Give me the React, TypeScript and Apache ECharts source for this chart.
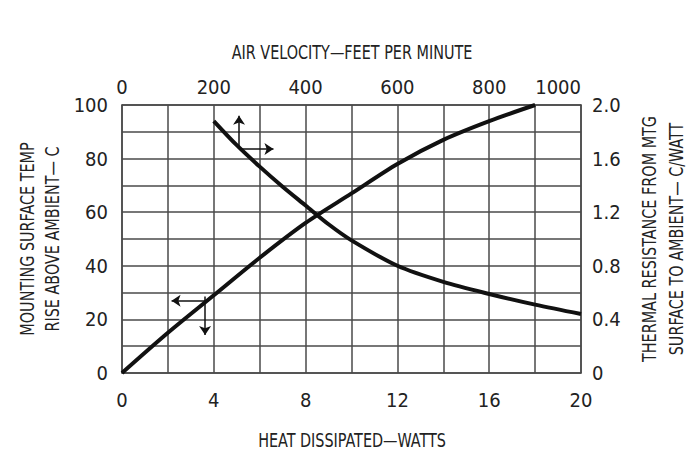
import React, { useEffect, useRef } from "react";
import * as echarts from "echarts";

// Heat dissipated (W) -> mounting surface temperature rise (°C), left axis
const tempRise: [number, number][] = [
  [0, 0], [2, 15], [4, 29], [6, 43], [8, 56], [10, 67], [12, 78], [14, 87], [16, 94], [18, 100],
];
// Heat dissipated (W) -> thermal resistance (°C/W), right axis
const thermalRes: [number, number][] = [
  [4, 1.88], [5, 1.7], [6, 1.54], [7, 1.39], [8, 1.25], [9, 1.11], [10, 0.99],
  [12, 0.8], [14, 0.68], [16, 0.59], [18, 0.51], [20, 0.44],
];
// Arrow annotations in data coordinates (x in W, y on left axis scale)
const arrowUp: [number, number][] = [[5.1, 83.6], [5.1, 96]];
const arrowRight: [number, number][] = [[5.1, 83.6], [6.6, 83.6]];
const arrowLeft: [number, number][] = [[3.76, 27], [2.16, 27]];
const arrowDown: [number, number][] = [[3.62, 28.5], [3.62, 14.2]];

const bottomTitle = "HEAT DISSIPATED—WATTS";
const topTitle = "AIR VELOCITY—FEET PER MINUTE";
const leftTitle = ["MOUNTING SURFACE TEMP", "RISE ABOVE AMBIENT— C"];
const rightTitle = ["THERMAL RESISTANCE FROM MTG", "SURFACE TO AMBIENT— C/WATT"];

const FONT = "'DejaVu Sans Condensed', 'Liberation Sans Narrow', sans-serif";
const TEXT = "#222";
const GRIDC = "#4a4a4a";

export default function App() {
  const ref = useRef<HTMLDivElement>(null);
  useEffect(() => {
    if (!ref.current) return;
    const chart = echarts.init(ref.current, undefined, { renderer: "svg" });
    const axisLine = { show: true, onZero: false, lineStyle: { color: GRIDC, width: 1.5 } };
    const label = { color: TEXT, fontFamily: FONT, fontSize: 20 };
    const split = { show: true, lineStyle: { color: GRIDC, width: 1.5 } };
    const ml = (pts: [number, number][]) => [{ coord: pts[0] }, { coord: pts[1] }];
    const titleStyle = (text: string) => ({
      text, fill: TEXT, font: `20px ${FONT}`, textAlign: "center", textVerticalAlign: "middle",
    });
    const hTitle = (text: string, x: number, y: number) => ({
      type: "text", x, y, scaleX: 0.8, silent: true, style: titleStyle(text),
    });
    const vTitle = (text: string, x: number, y: number) => ({
      type: "text", x, y, rotation: Math.PI / 2, scaleX: 0.8, silent: true, style: titleStyle(text),
    });
    chart.setOption({
      animation: false,
      backgroundColor: "#fff",
      grid: { left: 122, right: 117, top: 105, bottom: 79, containLabel: false },
      xAxis: [
        {
          type: "value", position: "bottom", min: 0, max: 20, interval: 2,
          axisLine, axisTick: { show: false }, splitLine: split,
          axisLabel: { ...label, margin: 17, formatter: (v: number) => (v % 4 === 0 ? String(v) : "") },
        },
        {
          type: "value", position: "top", min: 0, max: 1000, interval: 100,
          axisLine, axisTick: { show: false }, splitLine: { show: false },
          axisLabel: {
            ...label, margin: 8, alignMaxLabel: "right",
            formatter: (v: number) => (v % 200 === 0 ? String(v) : ""),
          },
        },
      ],
      yAxis: [
        {
          type: "value", position: "left", min: 0, max: 100, interval: 10,
          axisLine, axisTick: { show: false }, splitLine: split,
          axisLabel: { ...label, margin: 14, formatter: (v: number) => (v % 20 === 0 ? String(v) : "") },
        },
        {
          type: "value", position: "right", min: 0, max: 2, interval: 0.2,
          axisLine, axisTick: { show: false }, splitLine: { show: false },
          axisLabel: {
            ...label, margin: 11,
            formatter: (v: number) => {
              const t = Math.round(v * 10);
              if (t % 4 !== 0) return "";
              return t === 0 ? "0" : (t / 10).toFixed(1);
            },
          },
        },
      ],
      graphic: [
        hTitle(bottomTitle, 352, 440),
        hTitle(topTitle, 352, 52),
        vTitle(leftTitle[0], 27, 239),
        vTitle(leftTitle[1], 52, 239),
        vTitle(rightTitle[0], 649, 239),
        vTitle(rightTitle[1], 676, 239),
      ],
      series: [
        {
          type: "line", xAxisIndex: 0, yAxisIndex: 0, data: tempRise, smooth: 0.3,
          symbol: "none", lineStyle: { color: "#111", width: 4 }, silent: true,
          markLine: {
            silent: true, symbol: ["none", "arrow"], symbolSize: 9,
            label: { show: false },
            lineStyle: { color: "#111", width: 1.5, type: "solid" },
            data: [ml(arrowUp), ml(arrowRight), ml(arrowLeft), ml(arrowDown)],
          },
        },
        {
          type: "line", xAxisIndex: 0, yAxisIndex: 1, data: thermalRes, smooth: 0.3,
          symbol: "none", lineStyle: { color: "#111", width: 4 }, silent: true,
        },
      ],
    });
    return () => chart.dispose();
  }, []);
  return (
    <div
      ref={ref}
      style={{ position: "fixed", left: 0, top: 0, width: 698, height: 452, background: "#fff" }}
    />
  );
}
